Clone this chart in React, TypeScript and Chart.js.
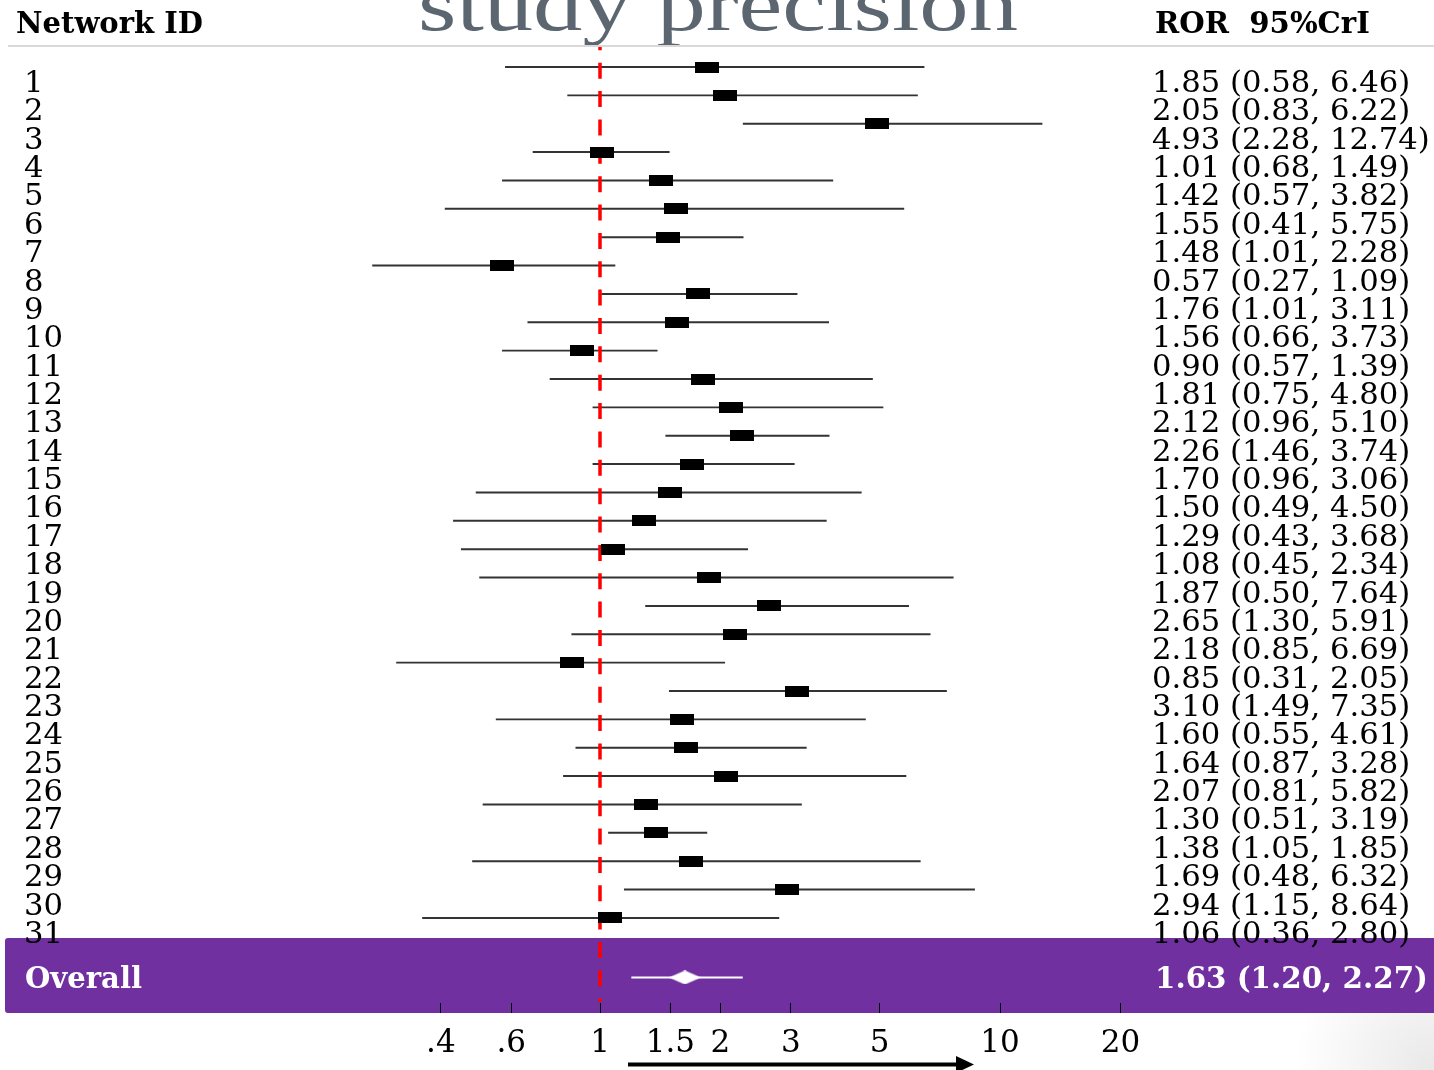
import React, { useEffect, useRef } from "react";
import { Chart, registerables } from "chart.js";

Chart.register(...registerables);

// ---------- data ----------
const networkIds = [
  "1", "2", "3", "4", "5", "6", "7", "8", "9", "10", "11", "12", "13", "14", "15", "16",
  "17", "18", "19", "20", "21", "22", "23", "24", "25", "26", "27", "28", "29", "30", "31",
];
const ror = [
  1.85, 2.05, 4.93, 1.01, 1.42, 1.55, 1.48, 0.57, 1.76, 1.56, 0.9, 1.81, 2.12, 2.26, 1.7, 1.5,
  1.29, 1.08, 1.87, 2.65, 2.18, 0.85, 3.1, 1.6, 1.64, 2.07, 1.3, 1.38, 1.69, 2.94, 1.06,
];
const lower = [
  0.58, 0.83, 2.28, 0.68, 0.57, 0.41, 1.01, 0.27, 1.01, 0.66, 0.57, 0.75, 0.96, 1.46, 0.96, 0.49,
  0.43, 0.45, 0.5, 1.3, 0.85, 0.31, 1.49, 0.55, 0.87, 0.81, 0.51, 1.05, 0.48, 1.15, 0.36,
];
const upper = [
  6.46, 6.22, 12.74, 1.49, 3.82, 5.75, 2.28, 1.09, 3.11, 3.73, 1.39, 4.8, 5.1, 3.74, 3.06, 4.5,
  3.68, 2.34, 7.64, 5.91, 6.69, 2.05, 7.35, 4.61, 3.28, 5.82, 3.19, 1.85, 6.32, 8.64, 2.8,
];
const overallLabel = "Overall";
const overallRor = 1.63;
const overallLower = 1.2;
const overallUpper = 2.27;
const tickValues = [0.4, 0.6, 1, 1.5, 2, 3, 5, 10, 20];
const tickLabels = [".4", ".6", "1", "1.5", "2", "3", "5", "10", "20"];
const refValue = 1;
const titleText = "study precision";
const headerLeft = "Network ID";
const headerRight = "ROR  95%CrI";

const W = 1434;
const H = 1070;
const SERIF = '"DejaVu Serif", serif';
const TITLE_FONT = '"Liberation Serif", serif';

function makeCanvas(w: number, h: number, draw: (g: CanvasRenderingContext2D) => void) {
  const c = document.createElement("canvas");
  c.width = w;
  c.height = h;
  const g = c.getContext("2d")!;
  draw(g);
  return c;
}

function fitFont(ctx: CanvasRenderingContext2D, text: string, width: number, weight: string, family: string) {
  ctx.font = `${weight} 100px ${family}`;
  const w = ctx.measureText(text).width;
  return `${weight} ${((100 * width) / w).toFixed(2)}px ${family}`;
}

const fmt = (a: number, b: number, c: number) => `${a.toFixed(2)} (${b.toFixed(2)}, ${c.toFixed(2)})`;

export default function App() {
  const ref = useRef<HTMLCanvasElement>(null);

  useEffect(() => {
    const canvas = ref.current!;
    const nRows = networkIds.length;
    const overallRow = nRows + 2.1;
    const MARKER_INDEX = 2;

    const box = makeCanvas(24, 11, (g) => {
      g.fillStyle = "#000";
      g.fillRect(0, 0, 24, 11);
    });
    const diamond = makeCanvas(32, 14, (g) => {
      g.fillStyle = "#fff";
      g.beginPath();
      g.moveTo(0, 7);
      g.lineTo(16, 0);
      g.lineTo(32, 7);
      g.lineTo(16, 14);
      g.closePath();
      g.fill();
    });

    const decor = {
      id: "forestDecor",
      beforeDraw(chart: any) {
        const ctx: CanvasRenderingContext2D = chart.ctx;
        const ca = chart.chartArea;
        const ys = chart.scales.y;
        ctx.save();
        ctx.fillStyle = "#fff";
        ctx.fillRect(0, 0, W, H);
        // slide shadow bottom-right
        const g = ctx.createRadialGradient(W, H, 0, W, H, 140);
        g.addColorStop(0, "rgba(0,0,0,0.09)");
        g.addColorStop(1, "rgba(0,0,0,0)");
        ctx.fillStyle = g;
        ctx.fillRect(W - 140, H - 140, 140, 140);
        // title (partly cut off)
        ctx.fillStyle = "#5b6670";
        ctx.font = `normal 76px ${TITLE_FONT}`;
        const tw = ctx.measureText(titleText).width;
        const sx = 600 / tw;
        ctx.translate(718, 30);
        ctx.scale(sx, 1);
        ctx.textAlign = "center";
        ctx.textBaseline = "alphabetic";
        ctx.fillText(titleText, 0, 0);
        ctx.setTransform(1, 0, 0, 1, 0, 0);
        // header separator
        ctx.strokeStyle = "#d9d9d9";
        ctx.lineWidth = 2;
        ctx.beginPath();
        ctx.moveTo(8, 46);
        ctx.lineTo(W, 46);
        ctx.stroke();
        // overall band
        const yc = ys.getPixelForValue(overallRow);
        const top = yc - 39.5;
        const bottom = ca.bottom + 10;
        ctx.fillStyle = "#7030a0";
        ctx.beginPath();
        (ctx as any).roundRect(5, top, W - 5 + 6, bottom - top, 3);
        ctx.fill();
        ctx.restore();
      },
      beforeDatasetDraw(chart: any, args: any) {
        if (args.index !== MARKER_INDEX) return;
        const ctx: CanvasRenderingContext2D = chart.ctx;
        const ys = chart.scales.y;
        const x = chart.scales.x.getPixelForValue(refValue);
        const rowPx = ys.getPixelForValue(2) - ys.getPixelForValue(1);
        const y0 = 47;
        const dashStart = ys.getPixelForValue(1) - 4.3 - rowPx;
        ctx.save();
        ctx.strokeStyle = "#ff0000";
        ctx.lineWidth = 3.5;
        ctx.setLineDash([16, rowPx - 16]);
        ctx.lineDashOffset = y0 - dashStart;
        ctx.beginPath();
        ctx.moveTo(x, y0);
        ctx.lineTo(x, chart.chartArea.bottom - 1);
        ctx.stroke();
        ctx.restore();
      },
      afterDraw(chart: any) {
        const ctx: CanvasRenderingContext2D = chart.ctx;
        const ys = chart.scales.y;
        ctx.save();
        ctx.fillStyle = "#000";
        ctx.textBaseline = "alphabetic";
        ctx.textAlign = "left";
        ctx.font = fitFont(ctx, headerLeft, 187, "bold", SERIF);
        ctx.fillText(headerLeft, 16, 33);
        ctx.font = fitFont(ctx, headerRight, 215, "bold", SERIF);
        ctx.fillText(headerRight, 1155, 33);

        ctx.font = `30.7px ${SERIF}`;
        networkIds.forEach((id, i) => {
          const y = ys.getPixelForValue(i + 1) + 25;
          ctx.fillText(id, 24, y);
          ctx.fillText(fmt(ror[i], lower[i], upper[i]), 1152, y);
        });

        const yo = ys.getPixelForValue(overallRow) + 11;
        ctx.fillStyle = "#fff";
        ctx.font = fitFont(ctx, overallLabel, 117, "bold", SERIF);
        ctx.fillText(overallLabel, 25, yo);
        const ovText = fmt(overallRor, overallLower, overallUpper);
        ctx.font = fitFont(ctx, ovText, 273, "bold", SERIF);
        ctx.fillText(ovText, 1155, yo);

        // direction arrow under the axis
        ctx.fillStyle = "#000";
        ctx.fillRect(628, 1062.5, 332, 4);
        ctx.beginPath();
        ctx.moveTo(956, 1056);
        ctx.lineTo(974, 1064.5);
        ctx.lineTo(956, 1073);
        ctx.closePath();
        ctx.fill();
        ctx.restore();
      },
    };

    const chart = new Chart(canvas, {
      type: "scatter",
      data: {
        datasets: [
          {
            type: "bar",
            indexAxis: "y",
            grouped: false,
            data: networkIds.map((_, i) => ({ x: [lower[i], upper[i]], y: i + 1 })),
            backgroundColor: "#333",
            borderWidth: 0,
            barThickness: 1.3,
            order: 3,
          } as any,
          {
            type: "bar",
            indexAxis: "y",
            grouped: false,
            data: [{ x: [overallLower, overallUpper], y: overallRow }],
            backgroundColor: "#fff",
            borderWidth: 0,
            barThickness: 1.5,
            order: 3,
          } as any,
          {
            type: "scatter",
            data: networkIds.map((_, i) => ({ x: ror[i], y: i + 1 })),
            pointStyle: box,
            pointRadius: 6,
            order: 1,
          } as any,
          {
            type: "scatter",
            data: [{ x: overallRor, y: overallRow }],
            pointStyle: diamond,
            pointRadius: 6,
            order: 0,
          } as any,
        ],
      },
      options: {
        responsive: false,
        animation: false,
        events: [],
        layout: { padding: { left: 200, right: 34, top: 38.64, bottom: 0 } },
        plugins: { legend: { display: false }, tooltip: { enabled: false } },
        scales: {
          x: {
            type: "logarithmic",
            position: "bottom",
            min: 0.1,
            max: 100,
            offset: false,
            afterFit: (s: any) => {
              s.height = H - 1003;
            },
            afterBuildTicks: (s: any) => {
              s.ticks = tickValues.map((v) => ({ value: v }));
            },
            ticks: {
              autoSkip: false,
              maxRotation: 0,
              minRotation: 0,
              padding: 12,
              color: "#000",
              font: { family: "DejaVu Serif", size: 31 },
              callback: (v: any) => {
                const k = tickValues.indexOf(Number(v));
                return k >= 0 ? tickLabels[k] : "";
              },
            },
            grid: { offset: false, drawOnChartArea: false, drawTicks: true, tickLength: 10, color: "#000", lineWidth: 1 },
            border: { display: false },
          } as any,
          y: {
            type: "linear",
            display: false,
            reverse: true,
            offset: false,
            grid: { offset: false },
            min: 0,
            max: 34,
          } as any,
        },
      },
      plugins: [decor],
    });

    return () => chart.destroy();
  }, []);

  return (
    <div style={{ position: "fixed", left: 0, top: 0, width: W, height: H, background: "#fff" }}>
      <canvas ref={ref} width={W} height={H} style={{ display: "block", width: W, height: H }} />
    </div>
  );
}
